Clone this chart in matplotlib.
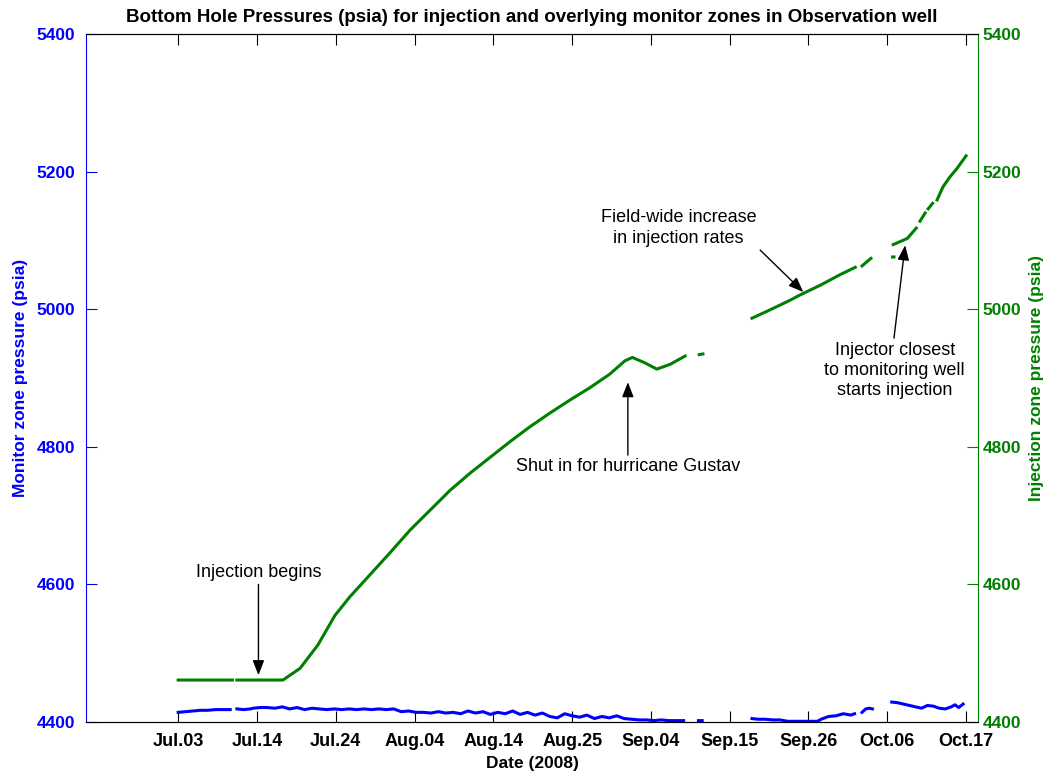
import numpy as np
import matplotlib
matplotlib.use("Agg")
import matplotlib.pyplot as plt

plt.rcParams['font.family'] = ['Liberation Sans', 'DejaVu Sans']

# elapsed days since Jul.03 2008, pressures in psia (nan = no data)
inj_days = [0.0, 7.3, np.nan, 7.9, 9.6, np.nan, 10.0, 14.1, 16.4, 18.8, 21.1, 23.1,
            25.8, 28.5, 31.2, 33.9, 36.6, 39.3, 42.0, 44.7, 47.3, 50.0, 52.7, 55.4,
            58.1, 60.1, 61.1, 62.8, 64.4, 66.2, 68.2, np.nan, 70.1, 70.6, np.nan,
            77.2, 79.6, 82.3, 83.7, 86.4, 89.0, 91.1, np.nan, 92.0, 93.2, np.nan,
            96.1, 96.3, np.nan, 96.2, 98.1, 99.3, np.nan, 99.8, 100.5, np.nan,
            100.9, 101.5, np.nan, 102.1, 102.9, 103.8, 104.8, 106.0]
inj_psi = [4461, 4461, np.nan, 4461, 4461, np.nan, 4461, 4461, 4478, 4512, 4555, 4582,
           4614, 4646, 4679, 4708, 4737, 4762, 4785, 4808, 4829, 4849, 4868, 4886,
           4906, 4925, 4930, 4922, 4913, 4920, 4932, np.nan, 4934, 4935, np.nan,
           4987, 4999, 5013, 5021, 5035, 5050, 5061, np.nan, 5063, 5074, np.nan,
           5076, 5076, np.nan, 5094, 5103, 5118, np.nan, 5128, 5140, np.nan,
           5146, 5154, np.nan, 5159, 5178, 5192, 5205, 5223]

mon_days = [0.0, 1.0, 2.0, 3.0, 4.0, 5.0, 6.0, 7.0, np.nan, 7.9, 8.8, 9.7, np.nan,
            10.1, 11, 12, 13, 14, 15, 16, 17, 18, 19, 20, 21, 22, 23, 24, 25, 26, 27,
            28, 29, 30, 31, 32, 33, 34, 35, 36, 37, 38, 39, 40, 41, 42, 43, 44, 45,
            46, 47, 48, 49, 50, 51, 52, 53, 54, 55, 56, 57, 58, 59, 60, 61, 62, 63,
            64, 65, 66, 67, 68, np.nan, 70.0, 70.5, np.nan,
            77.2, 78, 79, 80, 81, 82, 83, 84, 85, 86, 86.5, 87.5, 88.5, 89.5, 90.5,
            91.0, np.nan, 92.0, 92.5, 93.0, 93.4, np.nan,
            96.0, 96.8, 97.6, 98.4, 99.2, 100.0, 100.8, 101.6, 102.4, 103.2, 104.0,
            104.5, 105.0, 105.6]
mon_psi = [4414, 4415, 4416, 4417, 4417, 4418, 4418, 4418, np.nan, 4419, 4418, 4419,
           np.nan,
           4420, 4421, 4421, 4420, 4422, 4419, 4421, 4418, 4420, 4419, 4418, 4419,
           4418, 4419, 4418, 4419, 4418, 4419, 4418, 4419, 4415, 4416, 4414, 4414,
           4413, 4415, 4413, 4414, 4412, 4416, 4413, 4415, 4411, 4414, 4412, 4416,
           4411, 4414, 4410, 4413, 4408, 4406, 4412, 4409, 4407, 4410, 4405, 4408,
           4406, 4409, 4405, 4404, 4403, 4403, 4402, 4403, 4402, 4402, 4402, np.nan,
           4402, 4402, np.nan,
           4405, 4404, 4404, 4403, 4403, 4401, 4401, 4401, 4401, 4401, 4404, 4408,
           4409, 4412, 4410, 4412, np.nan, 4414, 4419, 4420, 4419, np.nan,
           4429, 4428, 4426, 4424, 4422, 4420, 4424, 4423, 4420, 4419, 4422, 4425,
           4421, 4426]

tick_labels = ['Jul.03', 'Jul.14', 'Jul.24', 'Aug.04', 'Aug.14', 'Aug.25',
               'Sep.04', 'Sep.15', 'Sep.26', 'Oct.06', 'Oct.17']
tick_days = np.arange(len(tick_labels)) * 10.6
psi_ticks = [4400, 4600, 4800, 5000, 5200, 5400]

blue = '#0000ff'
green = '#008000'

fig = plt.figure(figsize=(10.5, 7.75), dpi=100)
ax = fig.add_axes([0.0819, 0.0684, 0.8495, 0.8876])
ax2 = ax.twinx()

ax.plot(mon_days, mon_psi, color=blue, lw=2.2)
ax2.plot(inj_days, inj_psi, color=green, lw=2.2)

for a in (ax, ax2):
    a.set_xlim(-12.4, 107.6)
    a.set_ylim(4400, 5400)
    a.set_yticks(psi_ticks)

ax.set_xticks(tick_days)
ax.set_xticklabels(tick_labels, fontsize=13, fontweight='bold')
ax.tick_params(axis='x', direction='in', length=8, top=True, pad=8)
ax.tick_params(axis='y', direction='in', length=8, colors=blue, labelsize=12.5,
               pad=8)
ax2.tick_params(axis='y', direction='in', length=8, colors=green, labelsize=12.5)
for lab in ax.get_yticklabels() + ax2.get_yticklabels():
    lab.set_fontweight('bold')

ax.spines['left'].set_color(blue)
ax2.spines['left'].set_visible(False)
ax2.spines['right'].set_color(green)
ax.spines['right'].set_visible(False)

ax.set_ylabel('Monitor zone pressure (psia)', color=blue, fontsize=12.5,
              fontweight='bold', labelpad=6)
ax2.set_ylabel('Injection zone pressure (psia)', color=green, fontsize=12.5,
               fontweight='bold', labelpad=5)
ax.set_xlabel('Date (2008)', fontsize=12.5, fontweight='bold', labelpad=4)
ax.set_title('Bottom Hole Pressures (psia) for injection and overlying monitor '
             'zones in Observation well', fontsize=13.5, fontweight='bold', pad=9)

arrow = dict(arrowstyle='-|>,head_length=0.9,head_width=0.35', color='black',
             lw=1, shrinkA=0, shrinkB=0)

ax2.text(10.8, 4617, 'Injection begins', ha='center', va='center', fontsize=13)
ax2.annotate('', xy=(10.8, 4468), xytext=(10.8, 4600), arrowprops=arrow)

ax2.text(60.5, 4771, 'Shut in for hurricane Gustav', ha='center', va='center',
         fontsize=13)
ax2.annotate('', xy=(60.5, 4894), xytext=(60.5, 4788), arrowprops=arrow)

ax2.text(67.3, 5118, 'Field-wide increase\nin injection rates', ha='center',
         va='center', fontsize=13, linespacing=1.25)
ax2.annotate('', xy=(84.1, 5025), xytext=(78.3, 5086), arrowprops=arrow)

ax2.text(96.4, 4911, 'Injector closest\nto monitoring well\nstarts injection',
         ha='center', va='center', fontsize=13, linespacing=1.25)
ax2.annotate('', xy=(97.8, 5093), xytext=(96.3, 4958), arrowprops=arrow)

fig.savefig('out.png', dpi=100)
